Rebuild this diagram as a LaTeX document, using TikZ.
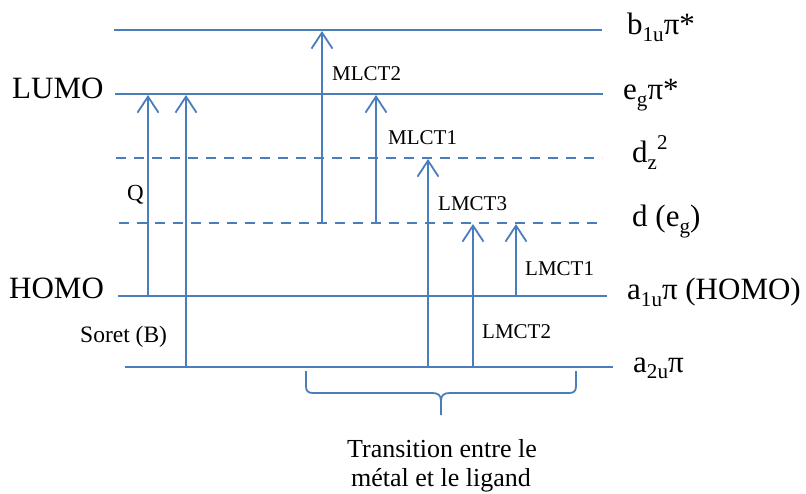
\documentclass[tikz,border=0pt]{standalone}
\usepackage{fontspec}
\setmainfont{Liberation Serif}
\usetikzlibrary{arrows.meta}
\definecolor{lvl}{RGB}{74,126,187}
\newcommand{\sbs}[1]{\raisebox{-0.22em}{\scalebox{0.68}{#1}}}
\newcommand{\sps}[1]{\raisebox{0.42em}{\scalebox{0.68}{#1}}}
\begin{document}
\begin{tikzpicture}[x=1pt,y=-1pt,
  level/.style={draw=lvl, line width=1.8pt},
  dlevel/.style={level, dash pattern=on 10pt off 8pt},
  trans/.style={draw=lvl, line width=1.8pt, -{Straight Barb[length=16pt,width=21pt,line width=1.8pt]}},
  big/.style={inner sep=0, anchor=base west, font=\fontsize{31}{36}\selectfont},
  small/.style={inner sep=0, anchor=base west, font=\fontsize{21}{25}\selectfont},
  mid/.style={inner sep=0, anchor=base west, font=\fontsize{23}{27}\selectfont},
  bottom/.style={inner sep=0, anchor=base, font=\fontsize{26}{30}\selectfont},
  ]
\useasboundingbox (0,0) rectangle (806,494);
% level coordinates
\coordinate (b1L) at (114,30);  \coordinate (b1R) at (602,30);
\coordinate (egL) at (115,94);  \coordinate (egR) at (603,94);
\coordinate (dzL) at (116,158); \coordinate (dzR) at (602,158);
\coordinate (deL) at (119,223); \coordinate (deR) at (603,223);
\coordinate (a1L) at (118,296); \coordinate (a1R) at (607,296);
\coordinate (a2L) at (125,367); \coordinate (a2R) at (613,367);
\draw[level] (b1L) -- (b1R);
\draw[level] (egL) -- (egR);
\draw[dlevel] (dzL) -- (dzR);
\draw[dlevel] (deL) -- (deR);
\draw[level] (a1L) -- (a1R);
\draw[level] (a2L) -- (a2R);
% level labels
\node[big] (lumo) at (12,99) {LUMO};
\node[big] (homo) at (9,299) {HOMO};
\node[big] (lb1) at (627,35) {b\sbs{1u}π*};
\node[big] (leg) at (623,100) {e\sbs{g}π*};
\node[big] (ldz) at (632,163) {d\sbs{z}\sps{2}};
\node[big] (lde) at (632,227) {d (e\sbs{g})};
\node[big] (la1) at (627,300) {a\sbs{1u}π (HOMO)};
\node[big] (la2) at (633,372) {a\sbs{2u}π};
% transitions
\coordinate (q0) at (148,296);  \coordinate (q1) at (148,95);
\coordinate (s0) at (186,367);  \coordinate (s1) at (186,95);
\coordinate (m20) at (322,223); \coordinate (m21) at (322,31);
\coordinate (m10) at (376,223); \coordinate (m11) at (376,95);
\coordinate (l30) at (428,367); \coordinate (l31) at (428,159);
\coordinate (l20) at (473,367); \coordinate (l21) at (473,224);
\coordinate (l10) at (516,296); \coordinate (l11) at (516,224);
\draw[trans] (q0) -- (q1);
\draw[trans] (s0) -- (s1);
\draw[trans] (m20) -- (m21);
\draw[trans] (m10) -- (m11);
\draw[trans] (l30) -- (l31);
\draw[trans] (l20) -- (l21);
\draw[trans] (l10) -- (l11);
% transition labels
\node[mid] (tq) at (127,201) {Q};
\node[inner sep=0, anchor=base west, font=\fontsize{23.5}{27}\selectfont] (ts) at (80,343) {Soret (B)};
\node[small] (tm2) at (332,81) {MLCT2};
\node[small] (tm1) at (388,145) {MLCT1};
\node[small] (tl3) at (438,211) {LMCT3};
\node[small] (tl1) at (525,276) {LMCT1};
\node[small] (tl2) at (482,339) {LMCT2};
% brace
\coordinate (brL) at (306,371);
\coordinate (brR) at (576,371);
\coordinate (brM) at (441,415);
\draw[draw=lvl, line width=1.8pt] (brL) -- (306,386) .. controls (306,391) and (308,393) .. (313,393)
  -- (432,393) .. controls (438,393) and (441,395) .. (441,401) -- (brM);
\draw[draw=lvl, line width=1.8pt] (441,401) .. controls (441,395) and (444,393) .. (450,393)
  -- (569,393) .. controls (574,393) and (576,391) .. (576,386) -- (brR);
\node[bottom] (bt1) at (442,457) {Transition entre le};
\node[bottom] (bt2) at (441,486) {métal et le ligand};
\end{tikzpicture}
\end{document}
